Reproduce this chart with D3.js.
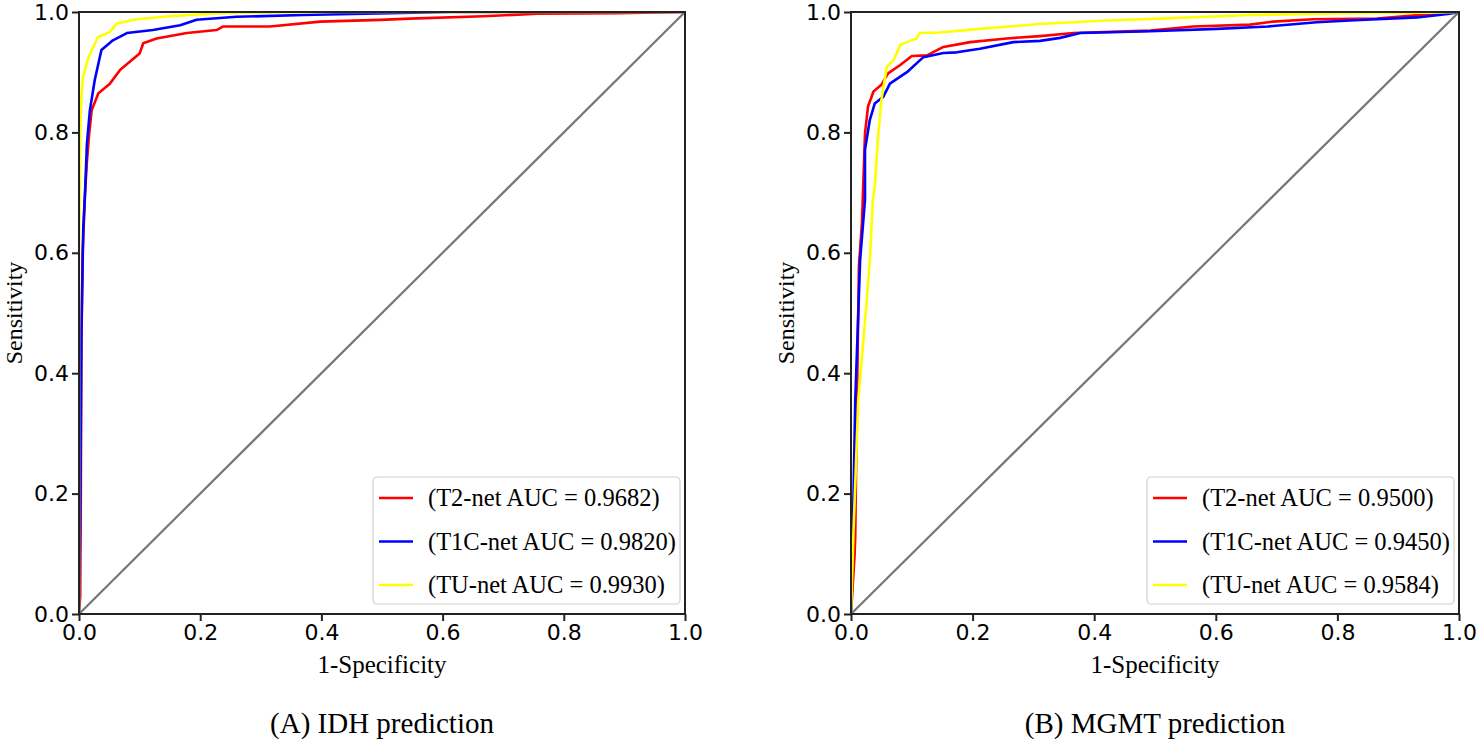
<!DOCTYPE html>
<html>
<head>
<meta charset="utf-8">
<script src="https://cdn.jsdelivr.net/npm/d3@7"></script>
<style>
  body { margin: 0; background: #fff; }
  svg { display: block; }
</style>
</head>
<body>
<div id="chart"></div>
<script>
// tick labels shared by both panels
var ticks = [0, 0.2, 0.4, 0.6, 0.8, 1.0];

// IDH panel, [1-specificity, sensitivity]
var idhT2 = [[0,0],[0.002,0.03],[0.003,0.2],[0.004,0.45],[0.006,0.6],[0.01,0.7],[0.013,0.75],[0.017,0.8],[0.021,0.837],[0.032,0.865],[0.051,0.881],[0.068,0.904],[0.1,0.931],[0.106,0.948],[0.128,0.956],[0.178,0.965],[0.227,0.97],[0.238,0.976],[0.315,0.976],[0.398,0.984],[0.497,0.987],[0.546,0.989],[0.667,0.993],[0.756,0.997],[0.888,0.998],[1,1]];
var idhT1C = [[0,0],[0.002,0.17],[0.004,0.47],[0.007,0.64],[0.01,0.7],[0.013,0.78],[0.018,0.837],[0.026,0.887],[0.037,0.937],[0.056,0.953],[0.079,0.965],[0.122,0.97],[0.167,0.978],[0.194,0.987],[0.26,0.992],[0.37,0.995],[0.513,0.998],[0.612,1],[1,1]];
var idhTU = [[0,0],[0,0.6],[0.002,0.8],[0.004,0.86],[0.0066,0.892],[0.015,0.923],[0.031,0.958],[0.051,0.967],[0.062,0.981],[0.095,0.988],[0.15,0.993],[0.233,0.998],[0.4,1],[1,1]];

// MGMT panel
var mgmtT2 = [[0,0],[0.003,0.05],[0.006,0.1],[0.007,0.13],[0.009,0.3],[0.013,0.577],[0.018,0.65],[0.023,0.798],[0.028,0.843],[0.037,0.868],[0.05,0.879],[0.061,0.898],[0.081,0.912],[0.1,0.927],[0.125,0.928],[0.152,0.942],[0.196,0.95],[0.256,0.956],[0.311,0.96],[0.366,0.965],[0.492,0.969],[0.563,0.976],[0.656,0.979],[0.694,0.984],[0.76,0.988],[0.865,0.989],[0.957,0.997],[1,1]];
var mgmtT1C = [[0,0],[0.002,0.1],[0.004,0.19],[0.007,0.355],[0.012,0.5],[0.015,0.588],[0.023,0.688],[0.023,0.771],[0.031,0.821],[0.039,0.848],[0.053,0.859],[0.064,0.881],[0.092,0.9],[0.119,0.925],[0.152,0.932],[0.174,0.933],[0.212,0.939],[0.267,0.95],[0.311,0.952],[0.344,0.957],[0.377,0.965],[0.492,0.968],[0.602,0.972],[0.686,0.976],[0.766,0.983],[0.82,0.986],[0.931,0.991],[0.985,0.997],[1,1]];
var mgmtTU = [[0,0],[0.004,0.134],[0.012,0.355],[0.026,0.522],[0.031,0.588],[0.036,0.688],[0.039,0.71],[0.045,0.798],[0.05,0.854],[0.059,0.909],[0.07,0.92],[0.081,0.945],[0.092,0.95],[0.108,0.956],[0.113,0.965],[0.146,0.966],[0.212,0.972],[0.311,0.98],[0.42,0.986],[0.508,0.989],[0.656,0.995],[0.82,0.998],[0.952,0.999],[1,1]];

var idhLabels = ["(T2-net AUC = 0.9682)", "(T1C-net AUC = 0.9820)", "(TU-net AUC = 0.9930)"];
var mgmtLabels = ["(T2-net AUC = 0.9500)", "(T1C-net AUC = 0.9450)", "(TU-net AUC = 0.9584)"];
var colors = ["#ff0000", "#0000ff", "#ffff00"];

var W = 1477, H = 739;
var svg = d3.select("#chart").append("svg")
  .attr("width", W).attr("height", H);

function panel(left, right, series, labels, caption, id) {
  var top = 12, bottom = 614;
  var x = d3.scaleLinear().domain([0, 1]).range([left, right]);
  var y = d3.scaleLinear().domain([0, 1]).range([bottom, top]);
  var g = svg.append("g");

  g.append("clipPath").attr("id", "clip" + id)
    .append("rect").attr("x", left).attr("y", top)
    .attr("width", right - left).attr("height", bottom - top);

  var line = d3.line()
    .x(function (d) { return x(d[0]); })
    .y(function (d) { return y(d[1]); });

  var plot = g.append("g").attr("clip-path", "url(#clip" + id + ")");
  series.forEach(function (s, i) {
    plot.append("path").datum(s)
      .attr("fill", "none")
      .attr("stroke", colors[i])
      .attr("stroke-width", 2.6)
      .attr("stroke-linejoin", "round")
      .attr("d", line);
  });
  // chance line
  plot.append("path").datum([[0, 0], [1, 1]])
    .attr("fill", "none").attr("stroke", "#777").attr("stroke-width", 2.2)
    .attr("d", line);

  // frame
  g.append("rect").attr("x", left).attr("y", top)
    .attr("width", right - left).attr("height", bottom - top)
    .attr("fill", "none").attr("stroke", "#222").attr("stroke-width", 2);

  var fmt = d3.format(".1f");
  var ax = g.append("g").attr("transform", "translate(0," + bottom + ")")
    .call(d3.axisBottom(x).tickValues(ticks).tickFormat(fmt).tickSize(7).tickPadding(3));
  var ay = g.append("g").attr("transform", "translate(" + left + ",0)")
    .call(d3.axisLeft(y).tickValues(ticks).tickFormat(fmt).tickSize(7).tickPadding(3));
  [ax, ay].forEach(function (a) {
    a.select(".domain").remove();
    a.selectAll(".tick line").attr("stroke", "#222").attr("stroke-width", 2);
    a.selectAll(".tick text").attr("fill", "#000")
      .style("font-family", "'DejaVu Sans', sans-serif").style("font-size", "22px");
  });

  var serif = "'Liberation Serif', 'Times New Roman', serif";
  var cx = (left + right) / 2;
  g.append("text").attr("x", cx).attr("y", 673).attr("text-anchor", "middle")
    .style("font-family", serif).style("font-size", "25px").text("1-Specificity");
  g.append("text").attr("transform", "translate(" + (left - 57) + "," + ((top + bottom) / 2) + ") rotate(-90)")
    .attr("text-anchor", "middle")
    .style("font-family", serif).style("font-size", "24px").text("Sensitivity");
  g.append("text").attr("x", cx).attr("y", 733).attr("text-anchor", "middle")
    .style("font-family", serif).style("font-size", "29px").text(caption);

  // legend
  var lx = right - 312, ly = 477;
  var leg = g.append("g");
  leg.append("rect").attr("x", lx).attr("y", ly).attr("width", 307).attr("height", 127)
    .attr("rx", 4).attr("fill", "#fff").attr("fill-opacity", 0.85)
    .attr("stroke", "#d0d0d0").attr("stroke-width", 1.2);
  labels.forEach(function (t, i) {
    var yy = ly + 21 + i * 43.5;
    leg.append("line").attr("x1", lx + 6).attr("x2", lx + 40)
      .attr("y1", yy).attr("y2", yy)
      .attr("stroke", colors[i]).attr("stroke-width", 2.6);
    leg.append("text").attr("x", lx + 55).attr("y", yy + 8)
      .style("font-family", serif).style("font-size", "24.5px").text(t);
  });
}

panel(79, 685, [idhT2, idhT1C, idhTU], idhLabels, "(A) IDH prediction", "a");
panel(851, 1459, [mgmtT2, mgmtT1C, mgmtTU], mgmtLabels, "(B) MGMT prediction", "b");
</script>
</body>
</html>
